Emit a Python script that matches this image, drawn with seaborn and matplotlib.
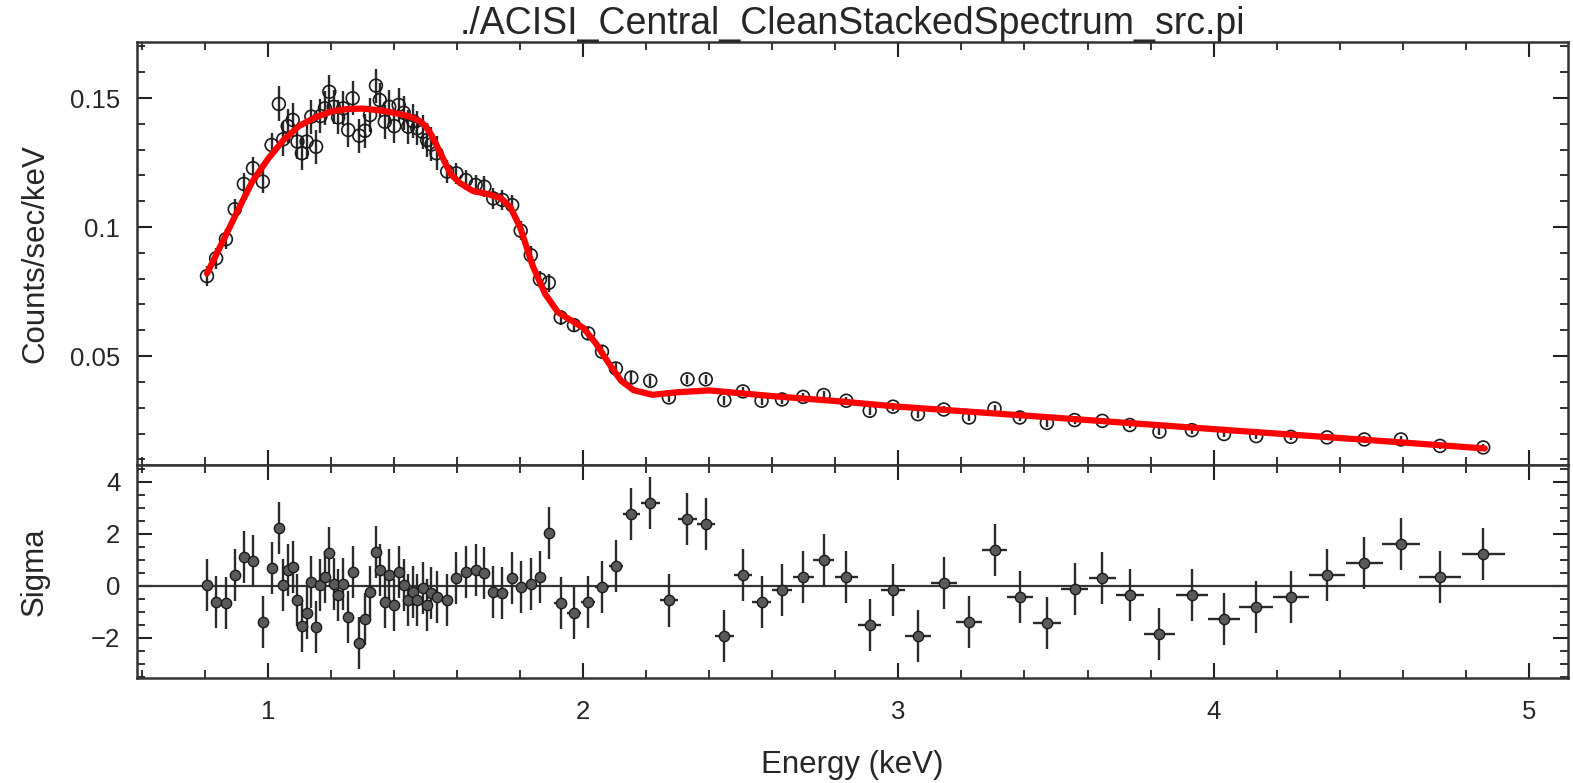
import numpy as np
import pandas as pd
import matplotlib
matplotlib.use("Agg")
import matplotlib.pyplot as plt
import seaborn as sns
from matplotlib.ticker import MultipleLocator, FixedLocator, FixedFormatter

# ---------------- data ----------------
energy = [0.807, 0.836, 0.867, 0.895, 0.924, 0.953, 0.984, 1.012, 1.035, 1.049,
          1.063, 1.079, 1.094, 1.108, 1.123, 1.138, 1.153, 1.167, 1.181, 1.195,
          1.209, 1.223, 1.239, 1.255, 1.269, 1.290, 1.308, 1.324, 1.343, 1.355,
          1.371, 1.385, 1.401, 1.415, 1.431, 1.445, 1.461, 1.474, 1.491, 1.505,
          1.519, 1.535, 1.569, 1.598, 1.628, 1.659, 1.687, 1.715, 1.744, 1.775,
          1.802, 1.834, 1.863, 1.891, 1.929, 1.971, 2.016, 2.060, 2.104, 2.153,
          2.213, 2.272, 2.331, 2.389, 2.448, 2.507, 2.566, 2.631, 2.698, 2.763,
          2.835, 2.909, 2.983, 3.062, 3.144, 3.224, 3.305, 3.385, 3.471, 3.559,
          3.647, 3.734, 3.828, 3.931, 4.033, 4.135, 4.245, 4.360, 4.478, 4.594,
          4.718, 4.855]

counts = [0.0810, 0.0879, 0.0953, 0.1069, 0.1167, 0.1228, 0.1176, 0.1318, 0.1477, 0.1340,
          0.1391, 0.1415, 0.1331, 0.1286, 0.1331, 0.1428, 0.1311, 0.1430, 0.1460, 0.1524,
          0.1466, 0.1425, 0.1460, 0.1376, 0.1499, 0.1354, 0.1373, 0.1434, 0.1548, 0.1492,
          0.1408, 0.1466, 0.1391, 0.1473, 0.1443, 0.1389, 0.1410, 0.1383, 0.1369, 0.1337,
          0.1320, 0.1286, 0.1215, 0.1208, 0.1182, 0.1163, 0.1156, 0.1111, 0.1105, 0.1085,
          0.0986, 0.0891, 0.0797, 0.0784, 0.0650, 0.0620, 0.0588, 0.0517, 0.0452, 0.0417,
          0.0404, 0.0340, 0.0410, 0.0410, 0.0329, 0.0363, 0.0327, 0.0332, 0.0342, 0.0349,
          0.0327, 0.0288, 0.0304, 0.0275, 0.0293, 0.0262, 0.0297, 0.0262, 0.0241, 0.0252,
          0.0249, 0.0233, 0.0207, 0.0213, 0.0198, 0.0190, 0.0187, 0.0185, 0.0177, 0.0177,
          0.0152, 0.0146]

count_err = [0.0040, 0.0040, 0.0040, 0.0040, 0.0042, 0.0042, 0.0045, 0.0045, 0.0068, 0.0066,
             0.0066, 0.0066, 0.0066, 0.0066, 0.0066, 0.0066, 0.0066, 0.0066, 0.0066, 0.0066,
             0.0066, 0.0066, 0.0066, 0.0066, 0.0066, 0.0066, 0.0066, 0.0066, 0.0066, 0.0066,
             0.0066, 0.0066, 0.0066, 0.0066, 0.0066, 0.0066, 0.0066, 0.0066, 0.0066, 0.0066,
             0.0066, 0.0066, 0.0045, 0.0042, 0.0040, 0.0040, 0.0040, 0.0040, 0.0040, 0.0040,
             0.0038, 0.0036, 0.0034, 0.0034, 0.0028, 0.0026, 0.0026, 0.0024, 0.0022, 0.0020,
             0.0020, 0.0018, 0.0018, 0.0018, 0.0018, 0.0016, 0.0016, 0.0016, 0.0016, 0.0016,
             0.0015, 0.0015, 0.0015, 0.0015, 0.0015, 0.0014, 0.0014, 0.0014, 0.0014, 0.0014,
             0.0013, 0.0013, 0.0013, 0.0013, 0.0013, 0.0012, 0.0012, 0.0012, 0.0012, 0.0012,
             0.0012, 0.0012]

sigma = [0.05, -0.60, -0.64, 0.42, 1.10, 0.96, -1.40, 0.68, 2.24, 0.04,
         0.62, 0.74, -0.54, -1.53, -1.05, 0.17, -1.59, 0.04, 0.36, 1.26,
         0.08, -0.35, 0.08, -1.18, 0.55, -2.18, -1.28, -0.24, 1.32, 0.62,
         -0.60, 0.42, -0.73, 0.55, 0.04, -0.54, -0.22, -0.54, -0.09, -0.73,
         -0.28, -0.41, -0.54, 0.30, 0.55, 0.62, 0.49, -0.24, -0.28, 0.30,
         -0.05, 0.08, 0.33, 2.05, -0.67, -1.03, -0.63, -0.03, 0.77, 2.77,
         3.18, -0.56, 2.58, 2.38, -1.92, 0.42, -0.60, -0.15, 0.33, 1.00,
         0.33, -1.50, -0.15, -1.92, 0.10, -1.40, 1.38, -0.41, -1.44, -0.12,
         0.30, -0.35, -1.85, -0.35, -1.28, -0.80, -0.41, 0.42, 0.90, 1.60,
         0.36, 1.22]

model_energy = [0.807, 0.85, 0.90, 0.95, 1.00, 1.05, 1.10, 1.15, 1.20, 1.25,
                1.30, 1.35, 1.40, 1.45, 1.48, 1.50, 1.52, 1.55, 1.58, 1.61,
                1.65, 1.70, 1.74, 1.77, 1.80, 1.84, 1.88, 1.92, 1.96, 2.00,
                2.04, 2.08, 2.12, 2.16, 2.22, 2.30, 2.40, 2.50, 2.60, 2.80,
                3.00, 3.50, 4.00, 4.50, 4.86]
model_counts = [0.0820, 0.0927, 0.1052, 0.1175, 0.1263, 0.1338, 0.1392, 0.1425, 0.1447, 0.1457,
                0.1459, 0.1453, 0.1443, 0.1428, 0.1412, 0.1392, 0.1355, 0.1280, 0.1205, 0.1170,
                0.1140, 0.1127, 0.1112, 0.1075, 0.1000, 0.0850, 0.0740, 0.0670, 0.0640, 0.0610,
                0.0550, 0.0475, 0.0405, 0.0368, 0.0350, 0.0360, 0.0367, 0.0356, 0.0345, 0.0326,
                0.0304, 0.0261, 0.0217, 0.0174, 0.0142]

title = "./ACISI_Central_CleanStackedSpectrum_src.pi"
xlabel = "Energy (keV)"
ylabel_top = "Counts/sec/keV"
ylabel_bot = "Sigma"
top_yticks = [0.05, 0.1, 0.15]
top_yticklabels = ["0.05", "0.1", "0.15"]

# ---------------- frames ----------------
df = pd.DataFrame({"energy": energy, "counts": counts, "err": count_err, "sigma": sigma})
e = np.array(energy)
edges = np.concatenate([[e[0] - (e[1] - e[0]) / 2], (e[1:] + e[:-1]) / 2, [e[-1] + (e[-1] - e[-2]) / 2]])
half_width = np.diff(edges) / 2
model_df = pd.DataFrame({"energy": model_energy, "counts": model_counts})

# ---------------- style ----------------
sns.set_theme(style="white")
plt.rcParams["font.family"] = ["Liberation Sans", "DejaVu Sans"]
plt.rcParams["axes.unicode_minus"] = True

W_PX, H_PX = 1573, 783
fig = plt.figure(figsize=(W_PX / 100, H_PX / 100), dpi=100)
left, right = 137 / W_PX, 1568 / W_PX
y_top, y_mid, y_bot = 42, 465, 678
ax1 = fig.add_axes([left, 1 - y_mid / H_PX, right - left, (y_mid - y_top) / H_PX])
ax2 = fig.add_axes([left, 1 - y_bot / H_PX, right - left, (y_bot - y_mid) / H_PX], sharex=ax1)

ink = "#1a1a1a"

# top panel
ax1.errorbar(df["energy"], df["counts"], yerr=df["err"], fmt="none",
             ecolor="#2a2a2a", elinewidth=1.7, capsize=0, zorder=2)
sns.scatterplot(data=df, x="energy", y="counts", ax=ax1, marker="o", s=85,
                facecolor="none", edgecolor=ink, linewidth=1.2, zorder=3)
sns.lineplot(data=model_df, x="energy", y="counts", ax=ax1, color="#ff0000",
             linewidth=4.5, sort=False, zorder=4)

# bottom panel
ax2.axhline(0, color="#333333", linewidth=1.6, zorder=1)
ax2.errorbar(df["energy"], df["sigma"], yerr=1.0, xerr=half_width, fmt="none",
             ecolor="#2a2a2a", elinewidth=1.7, capsize=0, zorder=2)
sns.scatterplot(data=df, x="energy", y="sigma", ax=ax2, marker="o", s=55,
                color="#5a5a5a", edgecolor=ink, linewidth=1.0, zorder=3)

# axes
ax1.set_xlim(0.585, 5.124)
ax1.set_ylim(0.0078, 0.1717)
ax2.set_ylim(-3.54, 4.65)

ax1.yaxis.set_major_locator(FixedLocator(top_yticks))
ax1.yaxis.set_major_formatter(FixedFormatter(top_yticklabels))
ax1.yaxis.set_minor_locator(MultipleLocator(0.01))
ax2.yaxis.set_major_locator(MultipleLocator(2))
ax2.yaxis.set_minor_locator(MultipleLocator(0.5))
ax2.xaxis.set_major_locator(MultipleLocator(1))
ax2.xaxis.set_minor_locator(MultipleLocator(0.2))

for ax in (ax1, ax2):
    for sp in ax.spines.values():
        sp.set_color("#333333")
        sp.set_linewidth(1.8)
    ax.tick_params(which="both", direction="in", top=True, right=True,
                   bottom=True, left=True, color="#222222")
    ax.tick_params(which="major", length=11, width=1.5, labelsize=18.5)
    ax.tick_params(which="minor", length=5.5, width=1.3)
    ax.tick_params(axis="y", which="major", pad=12)
    ax.tick_params(axis="x", which="major", pad=16)
    ax.set_xlabel("")
    ax.set_ylabel("")

ax1.tick_params(axis="x", labelbottom=False)

ax1.set_title(title, fontsize=27, pad=5)
ax1.set_ylabel(ylabel_top, fontsize=22.5)
ax2.set_ylabel(ylabel_bot, fontsize=22.5)
ax2.set_xlabel(xlabel, fontsize=22.5)
ax1.yaxis.set_label_coords((35 - 137) / (1568 - 137), 0.5)
ax2.yaxis.set_label_coords((35 - 137) / (1568 - 137), 0.5)
ax2.xaxis.set_label_coords(0.5, (678 - 765) / (678 - 465))
ax2.xaxis.label.set_va("center")
ax1.yaxis.label.set_va("center")
ax2.yaxis.label.set_va("center")

fig.savefig("out.png", dpi=100, facecolor="white")
